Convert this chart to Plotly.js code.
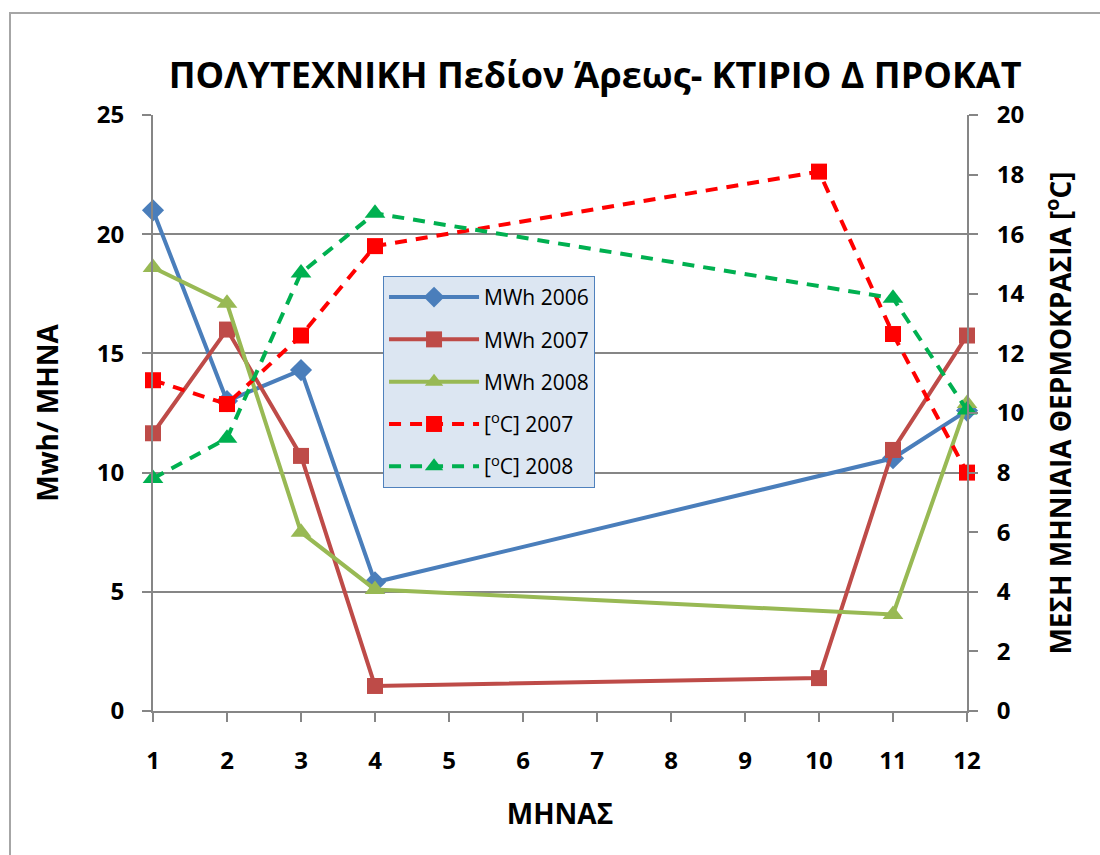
<!DOCTYPE html>
<html>
<head>
<meta charset="utf-8">
<script src="https://cdn.plot.ly/plotly-3.0.1.min.js"></script>
<style>
  html, body { margin: 0; padding: 0; background: #fff; }
  #wrap { position: relative; width: 1100px; height: 855px; }
  #frame { position: absolute; left: 9px; top: 12px; width: 1091px; height: 843px;
           border-top: 2px solid #a6a6a6; border-left: 2px solid #a6a6a6; box-sizing: border-box; pointer-events: none; z-index: 5; }
  #chart { position: absolute; left: 0; top: 0; width: 1100px; height: 855px; }
</style>
</head>
<body>
<div id="wrap">
  <div id="chart"></div>
  <div id="frame"></div>
</div>
<script>
// ---- data ----
const months   = [1, 2, 3, 4, 10, 11, 12];
const mwh2006  = [21.0, 13.0, 14.3, 5.4, null, 10.6, 12.6];
const mwh2007  = [11.65, 16.0, 10.7, 1.05, 1.38, 10.95, 15.75];
const mwh2008  = [18.6, 17.1, 7.5, 5.1, null, 4.05, 12.9];
const temp2007 = [11.1, 10.3, 12.6, 15.6, 18.1, 12.65, 8.0];
const temp2008 = [7.8, 9.15, 14.7, 16.7, null, 13.85, 10.1];
const xTicks   = [1,2,3,4,5,6,7,8,9,10,11,12];

const names = ['MWh 2006', 'MWh 2007', 'MWh 2008', '[<sup>o</sup>C] 2007', '[<sup>o</sup>C] 2008'];

const FONT = 'Open Sans, Noto Sans, DejaVu Sans, sans-serif';

const traces = [
  { x: months, y: mwh2006, name: names[0], legendgroup: 'g1', type: 'scatter', mode: 'lines+markers',
    connectgaps: true, cliponaxis: false,
    line: { color: '#4A7EBB', width: 4 },
    marker: { symbol: 'diamond', size: 17, color: '#4A7EBB' } },
  { x: months, y: mwh2007, name: names[1], legendgroup: 'g2', type: 'scatter', mode: 'lines+markers',
    connectgaps: true, cliponaxis: false,
    line: { color: '#BE4B48', width: 4 },
    marker: { symbol: 'square', size: 16, color: '#BE4B48' } },
  { x: months, y: mwh2008, name: names[2], legendgroup: 'g3', type: 'scatter', mode: 'lines+markers',
    connectgaps: true, cliponaxis: false,
    line: { color: '#98B954', width: 4 },
    marker: { symbol: 'triangle-up', size: 18, color: '#98B954' } },
  { x: months, y: temp2007, name: names[3], legendgroup: 'g4', type: 'scatter', mode: 'lines+markers', yaxis: 'y2',
    connectgaps: true, cliponaxis: false,
    line: { color: '#FF0000', width: 4, dash: '12px,9px' },
    marker: { symbol: 'square', size: 16, color: '#FF0000' } },
  { x: months, y: temp2008, name: names[4], legendgroup: 'g5', type: 'scatter', mode: 'lines+markers', yaxis: 'y2',
    connectgaps: true, cliponaxis: false,
    line: { color: '#00B050', width: 4, dash: '12px,9px' },
    marker: { symbol: 'triangle-up', size: 18, color: '#00B050' } }
];

const layout = {
  width: 1100, height: 855,
  margin: { l: 153, r: 133, t: 115, b: 144, pad: 0 },
  paper_bgcolor: '#ffffff', plot_bgcolor: '#ffffff',
  font: { family: FONT, color: '#000000' },
  showlegend: true,
  title: {
    text: '<b>ΠΟΛΥΤΕΧΝΙΚΗ Πεδίον Άρεως- ΚΤΙΡΙΟ Δ ΠΡΟΚΑΤ</b>',
    font: { family: FONT, size: 36, color: '#000' },
    x: 0.541, xref: 'container', xanchor: 'center',
    y: 0.912, yref: 'container', yanchor: 'middle'
  },
  xaxis: {
    range: [1, 12], tickvals: xTicks, ticktext: xTicks.map(String),
    showgrid: false, zeroline: false,
    showline: true, linecolor: '#868686', linewidth: 2,
    ticks: 'outside', ticklen: 9, tickwidth: 2, tickcolor: '#868686',
    ticklabelstandoff: 18,
    tickfont: { family: FONT, size: 24, color: '#000', weight: 'bold' },
    title: { text: '<b>ΜΗΝΑΣ</b>', font: { family: FONT, size: 28, color: '#000' }, standoff: 30 }
  },
  yaxis: {
    range: [0, 25], dtick: 5, tick0: 0,
    showgrid: true, gridcolor: '#868686', gridwidth: 2, zeroline: false,
    showline: true, linecolor: '#868686', linewidth: 2,
    ticks: 'outside', ticklen: 9, tickwidth: 2, tickcolor: '#868686',
    ticklabelstandoff: 13,
    tickfont: { family: FONT, size: 24, color: '#000', weight: 'bold' },
    title: { text: '<b>Mwh/ ΜΗΝΑ</b>', font: { family: FONT, size: 28, color: '#000' }, standoff: 30 }
  },
  yaxis2: {
    overlaying: 'y', side: 'right',
    range: [0, 20], dtick: 2, tick0: 0,
    showgrid: false, zeroline: false,
    showline: true, linecolor: '#868686', linewidth: 2,
    ticks: 'outside', ticklen: 9, tickwidth: 2, tickcolor: '#868686',
    ticklabelstandoff: 14,
    tickfont: { family: FONT, size: 24, color: '#000', weight: 'bold' },
    title: { text: '<b>ΜΕΣΗ ΜΗΝΙΑΙΑ ΘΕΡΜΟΚΡΑΣΙΑ [<sup>o</sup>C]</b>', font: { family: FONT, size: 28, color: '#000' }, standoff: 28 }
  },
  legend: {
    x: 0.2826, y: 0.730, xanchor: 'left', yanchor: 'top',
    xref: 'paper', yref: 'paper',
    bgcolor: '#DCE6F2', bordercolor: '#4F81BD', borderwidth: 1,
    font: { family: FONT, size: 21, color: '#000' },
    itemwidth: 90, traceorder: 'grouped', tracegroupgap: 12
  }
};

Plotly.newPlot('chart', traces, layout, { displayModeBar: false, staticPlot: true });
</script>
</body>
</html>
